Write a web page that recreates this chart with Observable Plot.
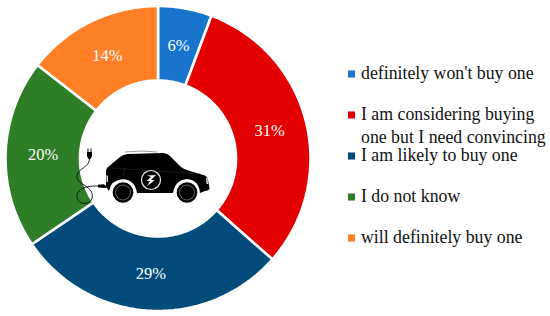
<!DOCTYPE html>
<html>
<head>
<meta charset="utf-8">
<script src="https://cdn.jsdelivr.net/npm/d3@7"></script>
<script src="https://cdn.jsdelivr.net/npm/@observablehq/plot@0.6"></script>
<style>html,body{margin:0;padding:0;background:#fff}svg{display:block}</style>
</head>
<body>
<div id="chart"></div>
<script>
const categories = ["definitely won't buy one", "I am considering buying\none but I need convincing", "I am likely to buy one", "I do not know", "will definitely buy one"];
const shares = [5.7, 30.8, 29, 20, 14.5];
const percentLabels = ["6%", "31%", "29%", "20%", "14%"];
const colors = ["#1874cd", "#e30000", "#004b7a", "#2e7d27", "#ff7f27"];

const W = 550, H = 316, cx = 157.5, cy = 158, R = 152.5, r = 78, rLabel = 115;
const FONT = "'Liberation Serif', serif";
const pt = (rad, pct) => {
  const a = pct / 100 * 2 * Math.PI;
  return {x: cx + rad * Math.sin(a), y: cy - rad * Math.cos(a)};
};

let cum = 0;
const slices = categories.map((c, i) => {
  const s = {category: c, start: cum, end: cum + shares[i], label: percentLabels[i]};
  cum += shares[i];
  return s;
});

const polygon = slices.flatMap(s => {
  const n = Math.ceil((s.end - s.start) * 3.6);
  const ts = d3.range(n + 1).map(k => s.start + (s.end - s.start) * k / n);
  return [
    ...ts.map(t => ({...pt(R, t), category: s.category})),
    ...ts.slice().reverse().map(t => ({...pt(r, t), category: s.category}))
  ];
});

const labelPos = slices.map(s => ({...pt(rLabel, (s.start + s.end) / 2), label: s.label}));
const legend = categories.map((c, i) => ({category: c, y: 73.5 + i * 41}));

function carIcon() {
  const g = d3.create("svg:g");
  g.append("path").attr("d", "M125 152 Q141 150 157 152").attr("fill", "none").attr("stroke", "#999").attr("stroke-width", 1);
  g.append("path").attr("fill", "#000").attr("d",
    "M106 187 L106 171 Q106.5 168 108 167 L120 157 Q123 154.5 128 154 L163 153 Q168 153.5 171 157 L181 167 Q184 169.5 190 171 L205 175.5 Q207.5 176.5 208 180 L209.5 188 Q209.5 190.5 205 191 L200 193 Q199 180 187 179 Q175 180 173 193 L137 193 Q135 180 123 179 Q111 180 109 191 Z");
  g.append("path").attr("d", "M106.5 175 L108 176 L108 182 L106.5 182 Z").attr("fill", "#ddd");
  g.append("path").attr("d", "M206 178 L207.5 178 L208 184 L206.5 184 Z").attr("fill", "#ddd");
  g.append("path").attr("d", "M112 168 L200 174 M125 168 L122 185").attr("fill", "none").attr("stroke", "#333").attr("stroke-width", 0.5);
  for (const wx of [123, 187]) {
    g.append("circle").attr("cx", wx).attr("cy", 192.5).attr("r", 11).attr("fill", "#000").attr("stroke", "#fff").attr("stroke-width", 1.3);
    g.append("circle").attr("cx", wx).attr("cy", 192.5).attr("r", 7.5).attr("fill", "#000").attr("stroke", "#777").attr("stroke-width", 0.8);
  }
  g.append("circle").attr("cx", 151).attr("cy", 180).attr("r", 9.5).attr("fill", "#000").attr("stroke", "#eee").attr("stroke-width", 1.2);
  g.append("path").attr("d", "M147 175.5 L156 175 L151 180 L155 180 L147 186 L150 181 L146.5 181 L151 177 Z").attr("fill", "#fff");
  g.append("path").attr("fill", "none").attr("stroke", "#111").attr("stroke-width", 0.9)
    .attr("d", "M89.5 159 C89 168 78 168 77 176 C76 183 86 184 91 191 C95 198 90 204 84 203.5 C77 203 75 195 79 191 C83 186 92 186 99 186");
  g.append("path").attr("fill", "#000").attr("d", "M98 184.8 L104 184.3 L106 186 L106 188 L98 187.5 Z");
  g.append("path").attr("fill", "#000").attr("d", "M87 152 L92 152 L92 156 L90.5 159 L88.5 159 L87 156 Z");
  g.append("path").attr("stroke", "#000").attr("stroke-width", 1).attr("d", "M88 152 L88 148.5 M91 152 L91 148.5");
  return g.node();
}

const chart = Plot.plot({
  width: W, height: H, margin: 0,
  x: {domain: [0, W], range: [0, W], axis: null},
  y: {domain: [0, H], range: [0, H], axis: null},
  color: {domain: categories, range: colors},
  style: {background: "#fff", fontFamily: FONT},
  marks: [
    Plot.line(polygon, {x: "x", y: "y", z: "category", fill: "category", stroke: "#fff", strokeWidth: 2.6, strokeLinejoin: "miter", curve: "linear-closed"}),
    Plot.text(labelPos, {x: "x", y: "y", text: "label", fill: "#fff", fontSize: 16.5, fontFamily: FONT}),
    carIcon,
    Plot.dot(legend, {x: () => 351, y: "y", symbol: "square", r: 4, fill: "category", stroke: null}),
    Plot.text(legend, {x: () => 360.5, y: "y", dy: -11, text: "category", textAnchor: "start", lineAnchor: "top", lineHeight: 1.27, fontSize: 17.8, fill: "#111", fontFamily: FONT})
  ]
});
document.getElementById("chart").append(chart);
</script>
</body>
</html>
